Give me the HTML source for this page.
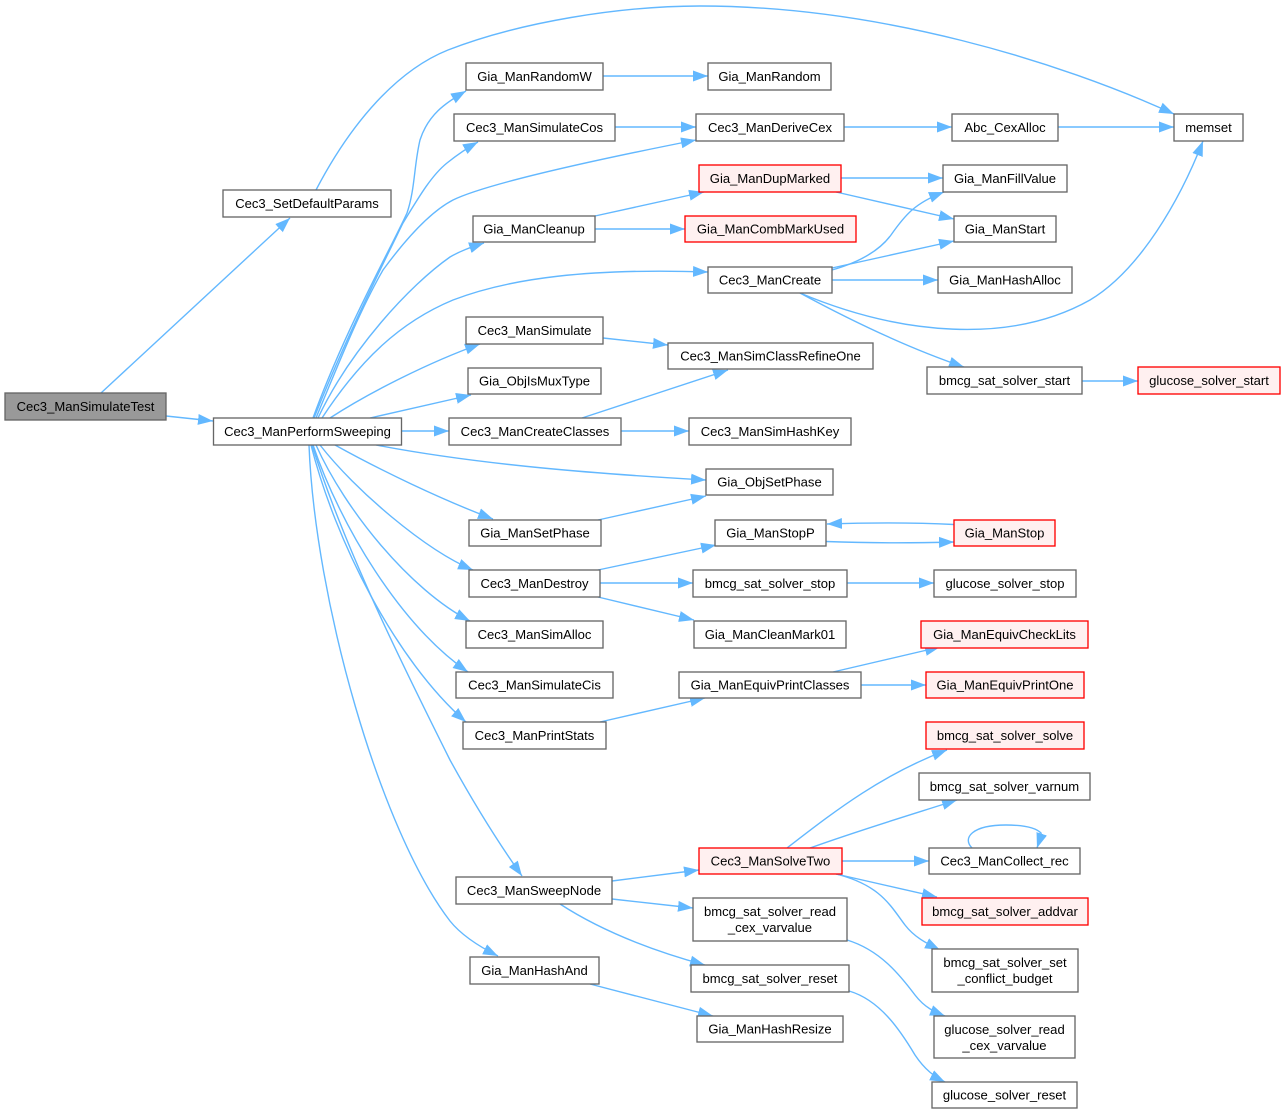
<!DOCTYPE html>
<html><head><meta charset="utf-8"><style>
html,body{margin:0;padding:0;background:#fff}
svg{display:block}
text{font-family:"Liberation Sans",Arial,sans-serif;font-size:13.06px;fill:#000;text-anchor:middle}
.e{fill:none;stroke:#63b8ff;stroke-width:1.4}
.n{fill:#fff;stroke:#666;stroke-width:1.33}
.r{fill:#fff0f0;stroke:#f00;stroke-width:1.33}
.g{fill:#999;stroke:#666;stroke-width:1.33}
</style></head><body>
<svg width="1285" height="1114" viewBox="0 0 1285 1114" xmlns="http://www.w3.org/2000/svg">
<defs><marker id="a" markerUnits="userSpaceOnUse" markerWidth="16" markerHeight="13" refX="15" refY="6" orient="auto"><path d="M0,0.5L15,6L0,11.5z" fill="#63b8ff"/></marker></defs>
<g>
<path class="e" marker-end="url(#a)" d="M101,393L290,218"/>
<path class="e" marker-end="url(#a)" d="M166,416L213,421"/>
<path class="e" marker-end="url(#a)" d="M316,190C352,121 398,70 448,50C520,22 620,6 700,6C880,6 1060,62 1174,114"/>
<path class="e" marker-end="url(#a)" d="M313,418C345,330 390,250 407,213C415,190 414,165 420,140C428,115 445,103 466,91"/>
<path class="e" marker-end="url(#a)" d="M314,418C345,340 380,270 403,223C420,195 432,175 447,163C457,155 467,148 478,142"/>
<path class="e" marker-end="url(#a)" d="M316,418C340,360 360,310 383,270C405,240 430,212 453,200C490,182 620,155 696,140"/>
<path class="e" marker-end="url(#a)" d="M318,418C350,350 410,285 450,257C462,250 472,247 484,243"/>
<path class="e" marker-end="url(#a)" d="M322,418C360,360 400,322 453,300C510,278 590,268 708,272"/>
<path class="e" marker-end="url(#a)" d="M330,418C370,392 430,362 480,344"/>
<path class="e" marker-end="url(#a)" d="M370,418L471,395"/>
<path class="e" marker-end="url(#a)" d="M401,431L449,431"/>
<path class="e" marker-end="url(#a)" d="M376,445C480,465 600,474 706,480"/>
<path class="e" marker-end="url(#a)" d="M335,445C380,470 440,499 493,519"/>
<path class="e" marker-end="url(#a)" d="M320,445C355,490 425,550 473,570"/>
<path class="e" marker-end="url(#a)" d="M316,445C345,510 410,590 470,621"/>
<path class="e" marker-end="url(#a)" d="M313,445C340,525 400,625 468,672"/>
<path class="e" marker-end="url(#a)" d="M311,445C335,540 395,660 466,722"/>
<path class="e" marker-end="url(#a)" d="M312,445C345,550 405,670 450,760C472,800 495,838 522,876"/>
<path class="e" marker-end="url(#a)" d="M309,445C315,600 380,830 450,921C462,936 480,947 498,956"/>
<path class="e" marker-end="url(#a)" d="M603,76L708,76"/>
<path class="e" marker-end="url(#a)" d="M615,127L696,127"/>
<path class="e" marker-end="url(#a)" d="M844,127L952,127"/>
<path class="e" marker-end="url(#a)" d="M1058,127L1174,127"/>
<path class="e" marker-end="url(#a)" d="M595,216L704,192"/>
<path class="e" marker-end="url(#a)" d="M595,229L685,229"/>
<path class="e" marker-end="url(#a)" d="M841,178L943,178"/>
<path class="e" marker-end="url(#a)" d="M836,192L954,219"/>
<path class="e" marker-end="url(#a)" d="M832,270C860,262 880,250 891,235C905,215 915,203 944,192"/>
<path class="e" marker-end="url(#a)" d="M832,268L954,241"/>
<path class="e" marker-end="url(#a)" d="M832,280L938,280"/>
<path class="e" marker-end="url(#a)" d="M800,293C900,335 1010,345 1090,300C1140,270 1180,200 1203,141"/>
<path class="e" marker-end="url(#a)" d="M800,293C850,320 905,347 964,367"/>
<path class="e" marker-end="url(#a)" d="M1082,381L1138,381"/>
<path class="e" marker-end="url(#a)" d="M603,338L668,345"/>
<path class="e" marker-end="url(#a)" d="M582,418L728,370"/>
<path class="e" marker-end="url(#a)" d="M621,431L689,431"/>
<path class="e" marker-end="url(#a)" d="M598,520L706,496"/>
<path class="e" marker-end="url(#a)" d="M598,570L716,545"/>
<path class="e" marker-end="url(#a)" d="M600,583L693,583"/>
<path class="e" marker-end="url(#a)" d="M598,597L694,620"/>
<path class="e" marker-end="url(#a)" d="M826,541.5C865,543 915,543 954,542"/>
<path class="e" marker-end="url(#a)" d="M954,524.5C915,522.5 870,522.5 827,524"/>
<path class="e" marker-end="url(#a)" d="M847,583L934,583"/>
<path class="e" marker-end="url(#a)" d="M833,672L940,647"/>
<path class="e" marker-end="url(#a)" d="M861,685L926,685"/>
<path class="e" marker-end="url(#a)" d="M600,722L705,698"/>
<path class="e" marker-end="url(#a)" d="M787,848C830,815 880,775 947,750"/>
<path class="e" marker-end="url(#a)" d="M810,848C860,830 910,815 957,800"/>
<path class="e" marker-end="url(#a)" d="M842,861L929,861"/>
<path class="e" marker-end="url(#a)" d="M836,874L937,897"/>
<path class="e" marker-end="url(#a)" d="M836,874C880,885 890,905 905,925C915,938 928,944 940,950"/>
<path class="e" marker-end="url(#a)" d="M972,848C962,838 972,825 1006,825C1024,825 1036,828 1041,833C1042,836 1039,842 1037,848"/>
<path class="e" marker-end="url(#a)" d="M612,881L699,870"/>
<path class="e" marker-end="url(#a)" d="M612,899L693,908"/>
<path class="e" marker-end="url(#a)" d="M560,904C600,930 650,950 705,965"/>
<path class="e" marker-end="url(#a)" d="M590,984L713,1016"/>
<path class="e" marker-end="url(#a)" d="M847,940C880,950 900,975 915,995C925,1008 935,1012 945,1016"/>
<path class="e" marker-end="url(#a)" d="M849,991C880,1000 900,1030 915,1055C925,1070 935,1077 945,1082"/>
</g>
<g>
<rect class="g" x="5" y="393" width="161" height="27"/><text x="85.5" y="411">Cec3_ManSimulateTest</text>
<rect class="n" x="213.5" y="418" width="188" height="27"/><text x="307.5" y="436">Cec3_ManPerformSweeping</text>
<rect class="n" x="223" y="190" width="168" height="27"/><text x="307" y="208">Cec3_SetDefaultParams</text>
<rect class="n" x="466" y="63" width="137" height="27"/><text x="534.5" y="81">Gia_ManRandomW</text>
<rect class="n" x="708" y="63" width="123" height="27"/><text x="769.5" y="81">Gia_ManRandom</text>
<rect class="n" x="454" y="114" width="161" height="27"/><text x="534.5" y="132">Cec3_ManSimulateCos</text>
<rect class="n" x="696" y="114" width="148" height="27"/><text x="770" y="132">Cec3_ManDeriveCex</text>
<rect class="n" x="952" y="114" width="106" height="27"/><text x="1005" y="132">Abc_CexAlloc</text>
<rect class="n" x="1174" y="114" width="69" height="27"/><text x="1208.5" y="132">memset</text>
<rect class="r" x="699" y="165" width="142" height="27"/><text x="770" y="183">Gia_ManDupMarked</text>
<rect class="n" x="943" y="165" width="124" height="27"/><text x="1005" y="183">Gia_ManFillValue</text>
<rect class="n" x="473" y="216" width="122" height="26"/><text x="534" y="233.5">Gia_ManCleanup</text>
<rect class="r" x="685" y="216" width="171" height="26"/><text x="770.5" y="233.5">Gia_ManCombMarkUsed</text>
<rect class="n" x="954" y="216" width="102" height="26"/><text x="1005" y="233.5">Gia_ManStart</text>
<rect class="n" x="708" y="267" width="124" height="26"/><text x="770" y="284.5">Cec3_ManCreate</text>
<rect class="n" x="938" y="267" width="134" height="26"/><text x="1005" y="284.5">Gia_ManHashAlloc</text>
<rect class="n" x="466" y="317" width="137" height="27"/><text x="534.5" y="335">Cec3_ManSimulate</text>
<rect class="n" x="668" y="343" width="205" height="26"/><text x="770.5" y="360.5">Cec3_ManSimClassRefineOne</text>
<rect class="n" x="927" y="367" width="155" height="27"/><text x="1004.5" y="385">bmcg_sat_solver_start</text>
<rect class="r" x="1138" y="367" width="142" height="27"/><text x="1209" y="385">glucose_solver_start</text>
<rect class="n" x="468" y="368" width="133" height="26"/><text x="534.5" y="385.5">Gia_ObjIsMuxType</text>
<rect class="n" x="449" y="418" width="172" height="27"/><text x="535" y="436">Cec3_ManCreateClasses</text>
<rect class="n" x="689" y="418" width="162" height="27"/><text x="770" y="436">Cec3_ManSimHashKey</text>
<rect class="n" x="706" y="469" width="127" height="26"/><text x="769.5" y="486.5">Gia_ObjSetPhase</text>
<rect class="n" x="469" y="520" width="132" height="26"/><text x="535" y="537.5">Gia_ManSetPhase</text>
<rect class="n" x="715" y="520" width="111" height="26"/><text x="770.5" y="537.5">Gia_ManStopP</text>
<rect class="r" x="954" y="520" width="101" height="26"/><text x="1004.5" y="537.5">Gia_ManStop</text>
<rect class="n" x="469" y="570" width="131" height="27"/><text x="534.5" y="588">Cec3_ManDestroy</text>
<rect class="n" x="693" y="570" width="154" height="27"/><text x="770" y="588">bmcg_sat_solver_stop</text>
<rect class="n" x="934" y="570" width="142" height="27"/><text x="1005" y="588">glucose_solver_stop</text>
<rect class="n" x="694" y="621" width="152" height="27"/><text x="770" y="639">Gia_ManCleanMark01</text>
<rect class="n" x="466" y="621" width="137" height="27"/><text x="534.5" y="639">Cec3_ManSimAlloc</text>
<rect class="r" x="921" y="621" width="167" height="27"/><text x="1004.5" y="639">Gia_ManEquivCheckLits</text>
<rect class="n" x="456" y="672" width="157" height="26"/><text x="534.5" y="689.5">Cec3_ManSimulateCis</text>
<rect class="n" x="679" y="672" width="182" height="26"/><text x="770" y="689.5">Gia_ManEquivPrintClasses</text>
<rect class="r" x="926" y="672" width="158" height="26"/><text x="1005" y="689.5">Gia_ManEquivPrintOne</text>
<rect class="n" x="463" y="722" width="143" height="27"/><text x="534.5" y="740">Cec3_ManPrintStats</text>
<rect class="r" x="926" y="722" width="158" height="27"/><text x="1005" y="740">bmcg_sat_solver_solve</text>
<rect class="n" x="919" y="773" width="171" height="27"/><text x="1004.5" y="791">bmcg_sat_solver_varnum</text>
<rect class="r" x="699" y="848" width="143" height="26"/><text x="770.5" y="865.5">Cec3_ManSolveTwo</text>
<rect class="n" x="929" y="848" width="151" height="26"/><text x="1004.5" y="865.5">Cec3_ManCollect_rec</text>
<rect class="n" x="456" y="877" width="156" height="27"/><text x="534" y="895">Cec3_ManSweepNode</text>
<rect class="n" x="693" y="898" width="154" height="43"/><text x="770" y="916">bmcg_sat_solver_read</text><text x="770" y="932">_cex_varvalue</text>
<rect class="r" x="922" y="898" width="166" height="27"/><text x="1005" y="916">bmcg_sat_solver_addvar</text>
<rect class="n" x="932" y="949" width="146" height="43"/><text x="1005" y="967">bmcg_sat_solver_set</text><text x="1005" y="983">_conflict_budget</text>
<rect class="n" x="470" y="957" width="129" height="27"/><text x="534.5" y="975">Gia_ManHashAnd</text>
<rect class="n" x="691" y="965" width="158" height="27"/><text x="770" y="983">bmcg_sat_solver_reset</text>
<rect class="n" x="697" y="1016" width="146" height="26"/><text x="770" y="1033.5">Gia_ManHashResize</text>
<rect class="n" x="934" y="1016" width="141" height="42"/><text x="1004.5" y="1034">glucose_solver_read</text><text x="1004.5" y="1050">_cex_varvalue</text>
<rect class="n" x="932" y="1082" width="145" height="26"/><text x="1004.5" y="1099.5">glucose_solver_reset</text>
</g>
</svg>
</body></html>
